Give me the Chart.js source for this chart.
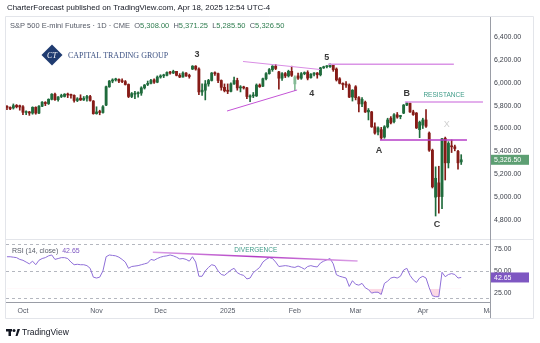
<!DOCTYPE html>
<html><head><meta charset="utf-8">
<script src="https://cdn.jsdelivr.net/npm/chart.js@4.4.1/dist/chart.umd.min.js"></script>
<style>html,body{margin:0;padding:0;background:#fff;overflow:hidden}canvas{display:block}</style>
</head><body>
<canvas id="c" width="540" height="343"></canvas>
<script>
// ---- DATA ----
const opens = [5790,5785,5780,5802,5800, 5790,5740,5745,5735,5785, 5735,5795,5828,5818,5855, 5900,5852,5880,5880,5900,
 5893,5890,5845,5865,5850, 5865,5880,5840,5730,5745, 5740,5805,5965,6015,6025, 6030,6015,6010,5985,5880,
 5900,5905,5910,5955,5985, 5995,6025,6005,6050,6060, 6065,6090,6085,6100,6065, 6050,6085,6060,6120,6145,
 6120,5920,5935,5990,6020, 6085,6080,6020,5960,5935, 5925,5990,6020,5955,5960, 5955,5875,5885,5885,5980,
 5970,6035,6080,6115,6145, 6095,6040,6080,6060,6100, 5990,6060,6040,6080,6090, 6045,6075,6085,6070,6130,
 6140,6140,6155,6120,6035, 5995,5985,5980,5875,5965, 5870,5815,5830,5745,5745, 5615,5570,5590,5525,5615,
 5690,5660,5720,5705,5735, 5805,5820,5745,5735,5590, 5630,5675,5560,5410,5000, 5125,5005,5515,5300,5445,
 5440,5400,5308];
const highs = [5800,5790,5815,5810,5805, 5800,5755,5750,5790,5790, 5800,5835,5835,5860,5905, 5910,5880,5900,5905,5910,
 5900,5895,5870,5895,5880, 5890,5890,5845,5790,5760, 5800,5970,6020,6035,6040, 6035,6035,6020,5990,5915,
 5925,5920,5965,5985,6015, 6030,6035,6060,6070,6075, 6095,6100,6110,6100,6080, 6095,6090,6075,6150,6150,
 6130,5990,6020,6030,6090, 6095,6085,6025,5990,5990, 6000,6050,6040,5975,5970, 5960,5895,5915,5990,5990,
 6040,6090,6125,6150,6160, 6100,6090,6090,6110,6145, 6060,6085,6090,6095,6105, 6080,6090,6090,6135,6145,
 6150,6165,6160,6130,6045, 6000,6010,5990,5940,5975, 5880,5870,5840,5775,5750, 5650,5615,5610,5625,5690,
 5705,5730,5740,5715,5810, 5830,5825,5760,5740,5665, 5690,5765,5570,5420,5265, 5270,5515,5525,5485,5500,
 5455,5410,5371.25];
const lows = [5765,5765,5770,5780,5760, 5720,5720,5715,5725,5725, 5730,5790,5800,5810,5850, 5845,5840,5870,5875,5870,
 5865,5830,5835,5845,5845, 5840,5840,5725,5725,5720, 5735,5800,5960,6000,6015, 6000,6000,5980,5870,5870,
 5860,5875,5890,5945,5975, 5990,5995,6000,6040,6045, 6060,6075,6080,6060,6045, 6050,6055,6040,6115,6110,
 5895,5890,5850,5970,6015, 6065,6000,5935,5920,5905, 5920,5985,5935,5920,5945, 5860,5835,5870,5880,5960,
 5965,6025,6075,6100,6115, 5945,6020,6045,6050,6055, 5930,6030,6030,6070,6025, 6040,6060,6040,6060,6125,
 6130,6135,6100,6015,5990, 5940,5960,5870,5840,5850, 5745,5790,5740,5675,5610, 5550,5545,5505,5515,5605,
 5640,5650,5690,5685,5730, 5800,5740,5715,5600,5520, 5600,5610,5400,5080,4835, 4860,4900,5150,5255,5390,
 5405,5245,5285.5];
const closes = [5785,5772,5800,5790,5788, 5742,5745,5735,5785,5735, 5795,5830,5818,5855,5900, 5852,5876,5880,5900,5893,
 5890,5845,5860,5850,5865, 5880,5845,5730,5745,5740, 5790,5965,6015,6025,6030, 6015,6010,5985,5880,5905,
 5905,5910,5955,5980,5995, 6020,6005,6050,6060,6065, 6090,6085,6100,6065,6050, 6085,6060,6055,6145,6120,
 5920,5935,5990,6020,6085, 6080,6020,5960,5930,5925, 5990,6020,5955,5960,5955, 5880,5885,5885,5980,5965,
 6035,6080,6115,6145,6125, 6040,6080,6060,6100,6065, 6050,6040,6080,6085,6040, 6075,6085,6070,6130,6140,
 6145,6158,6115,6025,5995, 5985,5980,5875,5935,5870, 5815,5855,5745,5760,5615, 5560,5605,5518,5615,5675,
 5650,5720,5700,5710,5805, 5825,5745,5722,5605,5655, 5675,5620,5410,5090,5165, 5005,5510,5300,5470,5440,
 5425,5300,5326.5];
const rsiValues = [66,66,65.5,65,63, 62,60,58,61,57, 62,64,65,67,68, 63,64,65,65,64,
 60,57,57.5,57,57, 56,53,43,42,43, 50,66,68,67.5,67, 65.5,63,60,53,55,
 55.5,56,57,58,59, 63,62,64,65.5,66.5, 67,68,67,65.5,63.5, 64,63,61,66,60,
 44,44,50,54,57, 56,50,46,45,48, 51,53,48,46,45, 41,42,48,51,54,
 60,63,65,64,60, 55,55.5,56,55.5,54.5, 54,55.5,54,52,55, 56,55,54.5,59,61,
 62.5,64,58,45.7,44, 43,42,32.5,39,35, 34,36,31,29,25, 26,26,23.5,36,38.5,
 42,43,42,44,51, 53,45,40,37,42, 44,42,31,22,21, 21,48.5,43.5,46,47,
 46,42,42.65];
const priceTicks = [4800,5000,5200,5400,5600,5800,6000,6200,6400];
const rsiTicks = [25,50,75];
const rsiBands = [80,50,20];
const rsiOversold = 30;
const monthLabels = ['Oct','Nov','Dec','2025','Feb','Mar','Apr','May'];
const holidays = ['2024-11-28','2024-12-25','2025-01-01','2025-01-20','2025-02-17','2025-04-18'];
// trading-day categories (Sep 24 2024 .. May 1 2025)
const tradingDays = (() => {
  const out = []; const d = new Date(Date.UTC(2024, 8, 24)); const end = Date.UTC(2025, 4, 1);
  while (d.getTime() <= end) {
    const s = d.toISOString().slice(0, 10), w = d.getUTCDay();
    if (w !== 0 && w !== 6 && !holidays.includes(s)) out.push(s);
    d.setUTCDate(d.getUTCDate() + 1);
  }
  return out;
})();
const monthStarts = tradingDays.map((s, i) => (i > 0 && s.slice(5, 7) !== tradingDays[i - 1].slice(5, 7)) ? i : -1).filter(i => i >= 0);

// annotations (day index, value)
const trendLines = [
  {pane: 'y', a: [73.8, 6186], b: [97.9, 6116]},
  {pane: 'y', a: [68.8, 5753], b: [90.7, 5937]},
  {pane: 'y', a: [100.4, 6161], b: [139.7, 6161]},
  {pane: 'y', a: [116.6, 5500], b: [143.8, 5500]},
  {pane: 'y', a: [124.4, 5832], b: [148.8, 5832]},
  {pane: 'rsi', a: [45.6, 71.0], b: [109.6, 61.2]}
];
const trendStyles = [['#d98de4', 1], ['#c454d6', 1], ['#da94e6', 1.5], ['#b63ec7', 1.5], ['#da94e6', 1.5], ['#c458d2', 1.5]];
const waveLabels = [['3', 59.4, 6243], ['5', 100, 6225], ['4', 95.3, 5910], ['B', 125, 5910], ['A', 116.3, 5404], ['C', 134.4, 4757]];
const markX = ['X', 137.5, 5631];
const resistanceNote = ['RESISTANCE', 136.6, 5888];
const divergenceNote = ['DIVERGENCE', 77.8, 73.6];

// ---- STYLE ----
const FAM = '"Liberation Sans", Arial, sans-serif';
const C_UP = '#1f6b3c', C_UP_L = '#84bb96', C_DN = '#861b17', C_DN_L = '#e2726b';
const idx = closes.map((_, i) => i);
const candleColors = idx.map(i => {
  const up = closes[i] >= opens[i];
  const strong = i === 0 ? true : (up ? closes[i] >= closes[i - 1] : closes[i] < closes[i - 1]);
  return up ? (strong ? C_UP : C_UP_L) : (strong ? C_DN : C_DN_L);
});
const fmt = v => Number(v).toLocaleString('en-US', {minimumFractionDigits: 2, maximumFractionDigits: 2});

const overlay = {
  id: 'overlay',
  beforeDatasetsDraw(chart) {
    const {ctx, chartArea: a, scales: {rsi}} = chart;
    ctx.save();
    ctx.strokeStyle = '#b4b7bf'; ctx.lineWidth = 1; ctx.setLineDash([3, 3]);
    rsiBands.forEach(v => {
      const yy = Math.round(rsi.getPixelForValue(v)) + 0.5;
      ctx.beginPath(); ctx.moveTo(a.left, yy); ctx.lineTo(a.right, yy); ctx.stroke();
    });
    ctx.restore();
  },
  afterDatasetsDraw(chart) {
    const {ctx, chartArea: a, scales: {x, y, rsi}} = chart;
    ctx.save();
    trendLines.forEach((t, k) => {
      const sc = t.pane === 'rsi' ? rsi : y;
      const x1 = x.getPixelForValue(t.a[0]), y1 = sc.getPixelForValue(t.a[1]);
      const x2 = x.getPixelForValue(t.b[0]), y2 = sc.getPixelForValue(t.b[1]);
      let stroke = trendStyles[k][0];
      if (t.pane === 'rsi') {
        const g = ctx.createLinearGradient(x1, 0, x2, 0);
        g.addColorStop(0, '#dba0e6'); g.addColorStop(0.5, '#b23cc4'); g.addColorStop(1, '#dba0e6');
        stroke = g;
      }
      ctx.strokeStyle = stroke; ctx.lineWidth = trendStyles[k][1];
      ctx.beginPath(); ctx.moveTo(x1, y1); ctx.lineTo(x2, y2); ctx.stroke();
    });
    ctx.textAlign = 'center'; ctx.textBaseline = 'middle';
    ctx.fillStyle = '#3a3a3a'; ctx.font = 'bold 9px ' + FAM;
    waveLabels.forEach(([t, d, p]) => ctx.fillText(t, x.getPixelForValue(d), y.getPixelForValue(p)));
    ctx.fillStyle = '#cfcfcf'; ctx.font = '9px ' + FAM;
    ctx.fillText(markX[0], x.getPixelForValue(markX[1]), y.getPixelForValue(markX[2]));
    ctx.fillStyle = '#3f9c88'; ctx.font = '6.5px ' + FAM;
    ctx.fillText(resistanceNote[0], x.getPixelForValue(resistanceNote[1]), y.getPixelForValue(resistanceNote[2]));
    ctx.fillText(divergenceNote[0], x.getPixelForValue(divergenceNote[1]), rsi.getPixelForValue(divergenceNote[2]));
    ctx.restore();
  },
  afterDraw(chart) {
    const {ctx, chartArea: a, scales: {x, y, rsi}} = chart;
    ctx.save();
    ctx.fillStyle = '#fff'; ctx.fillRect(a.right + 0.5, a.bottom + 1, 540 - a.right, 15);
    ctx.strokeStyle = '#e3e5ea'; ctx.lineWidth = 1;
    ctx.beginPath();
    ctx.moveTo(a.left - 0.5, a.top - 0.5); ctx.lineTo(533.5, a.top - 0.5); ctx.lineTo(533.5, 318.5); ctx.lineTo(a.left - 0.5, 318.5); ctx.closePath();
    ctx.stroke();
    ctx.beginPath(); ctx.moveTo(a.left, Math.round(rsi.top) + 0.5); ctx.lineTo(533, Math.round(rsi.top) + 0.5); ctx.stroke();
    ctx.strokeStyle = '#9a9da6';
    ctx.beginPath(); ctx.moveTo(a.left, a.bottom + 0.5); ctx.lineTo(a.right, a.bottom + 0.5); ctx.stroke();
    ctx.beginPath(); ctx.moveTo(a.right + 0.5, a.top); ctx.lineTo(a.right + 0.5, 318); ctx.stroke();
    const last = closes.length - 1;
    const py = y.getPixelForValue(closes[last]);
    ctx.fillStyle = '#5d9f73'; ctx.fillRect(a.right + 1, py - 5, 38, 10);
    const ry = rsi.getPixelForValue(rsiValues[last]);
    ctx.fillStyle = '#7e57c2'; ctx.fillRect(a.right + 1, ry - 5, 38, 10);
    ctx.fillStyle = '#fff'; ctx.font = '7px ' + FAM; ctx.textBaseline = 'middle'; ctx.textAlign = 'left';
    ctx.fillText(fmt(closes[last]), a.right + 4, py + 0.5);
    ctx.fillText(rsiValues[last].toFixed(2), a.right + 4, ry + 0.5);
    ctx.fillStyle = '#131722'; ctx.font = '7.9px ' + FAM;
    ctx.fillText('CharterForecast published on TradingView.com, Apr 18, 2025 12:54 UTC-4', 7, 8);
    let hx = 10; const hy = 25.5;
    const seg = (t, c) => { ctx.fillStyle = c; ctx.fillText(t, hx, hy); hx += ctx.measureText(t).width; };
    ctx.font = '7.5px ' + FAM;
    seg('S&P 500 E-mini Futures · 1D · CME  ', '#555a66');
    const G = '#2f7d4f';
    seg('O', '#555a66'); seg(fmt(opens[last]) + '  ', G);
    seg('H', '#555a66'); seg(fmt(highs[last]) + '  ', G);
    seg('L', '#555a66'); seg(fmt(lows[last]) + '  ', G);
    seg('C', '#555a66'); seg(fmt(closes[last]), G);
    hx = 12;
    ctx.font = '7px ' + FAM;
    const ly = rsi.top + 12;
    const seg2 = (t, c) => { ctx.fillStyle = c; ctx.fillText(t, hx, ly); hx += ctx.measureText(t).width; };
    seg2('RSI (14, close)  ', '#555a66'); seg2(rsiValues[last].toFixed(2), '#7e57c2');
    const cx = 52, cy = 55, r = 10.5;
    ctx.fillStyle = '#1f3b70';
    ctx.beginPath(); ctx.moveTo(cx, cy - r); ctx.lineTo(cx + r, cy); ctx.lineTo(cx, cy + r); ctx.lineTo(cx - r, cy); ctx.closePath(); ctx.fill();
    ctx.fillStyle = '#fff'; ctx.font = 'italic 8px "Liberation Serif", serif'; ctx.textAlign = 'center';
    ctx.fillText('CT', cx, cy + 0.5);
    ctx.textAlign = 'left'; ctx.fillStyle = '#3d5283'; ctx.font = '8px "Liberation Serif", serif';
    ctx.fillText('CAPITAL TRADING GROUP', 68, 55.5);
    ctx.fillStyle = '#131722';
    ctx.fillRect(6, 329, 6, 2.5); ctx.fillRect(8.5, 329, 2.5, 7);
    ctx.beginPath(); ctx.arc(14, 330.5, 1.5, 0, Math.PI * 2); ctx.fill();
    ctx.beginPath(); ctx.moveTo(15.5, 336); ctx.lineTo(17.5, 329); ctx.lineTo(20, 329); ctx.lineTo(17.5, 336); ctx.closePath(); ctx.fill();
    ctx.font = '8.5px ' + FAM; ctx.textBaseline = 'middle';
    ctx.fillText('TradingView', 22, 332.5);
    ctx.restore();
  }
};

new Chart(document.getElementById('c'), {
  type: 'bar',
  data: {
    datasets: [
      {type: 'bar', label: 'wick', data: idx.map(i => ({x: i, y: [lows[i], highs[i]]})), yAxisID: 'y', xAxisID: 'x',
        backgroundColor: candleColors, barThickness: 1, grouped: false, borderWidth: 0, order: 3},
      {type: 'bar', label: 'body', data: idx.map(i => ({x: i, y: [opens[i], closes[i]]})), yAxisID: 'y', xAxisID: 'x',
        backgroundColor: candleColors, barThickness: 2.2, minBarLength: 1, grouped: false, borderWidth: 0, order: 2},
      {type: 'line', label: 'RSI', data: idx.map(i => ({x: i, y: rsiValues[i]})), yAxisID: 'rsi', xAxisID: 'x',
        borderColor: '#8f6fd8', borderWidth: 1, pointRadius: 0, tension: 0, order: 1,
        fill: {target: {value: rsiOversold}, above: 'rgba(0,0,0,0)', below: 'rgba(245,120,160,0.28)'}}
    ]
  },
  options: {
    responsive: false, animation: false, devicePixelRatio: 1,
    layout: {padding: {left: 6, top: 17, right: 0, bottom: 25}},
    plugins: {legend: {display: false}, tooltip: {enabled: false}},
    scales: {
      x: {
        type: 'linear', min: -0.3, max: 151, offset: false,
        grid: {display: false, drawTicks: false}, border: {display: false},
        afterBuildTicks: s => { s.ticks = monthStarts.map(v => ({value: v})); },
        afterFit: s => { s.height = 16; },
        ticks: {autoSkip: false, maxRotation: 0, padding: 5, color: '#555a66', font: {size: 7, family: FAM},
          callback: v => { const k = monthStarts.indexOf(v); return k >= 0 ? monthLabels[k] : ''; }}
      },
      y: {
        position: 'right', stack: 'pane', stackWeight: 222, min: 4634, max: 6575,
        grid: {display: false, drawTicks: false}, border: {display: false},
        afterBuildTicks: s => { s.ticks = priceTicks.map(v => ({value: v})); },
        afterFit: s => { s.width = 50; },
        ticks: {padding: 4, color: '#3a3e48', font: {size: 7, family: FAM}, callback: v => fmt(v)}
      },
      rsi: {
        position: 'right', stack: 'pane', stackWeight: 63, min: 15, max: 86,
        grid: {display: false, drawTicks: false}, border: {display: false},
        afterBuildTicks: s => { s.ticks = rsiTicks.map(v => ({value: v})); },
        afterFit: s => { s.width = 50; },
        ticks: {padding: 4, color: '#3a3e48', font: {size: 7, family: FAM}, callback: v => fmt(v)}
      }
    }
  },
  plugins: [overlay]
});
</script>
</body></html>
